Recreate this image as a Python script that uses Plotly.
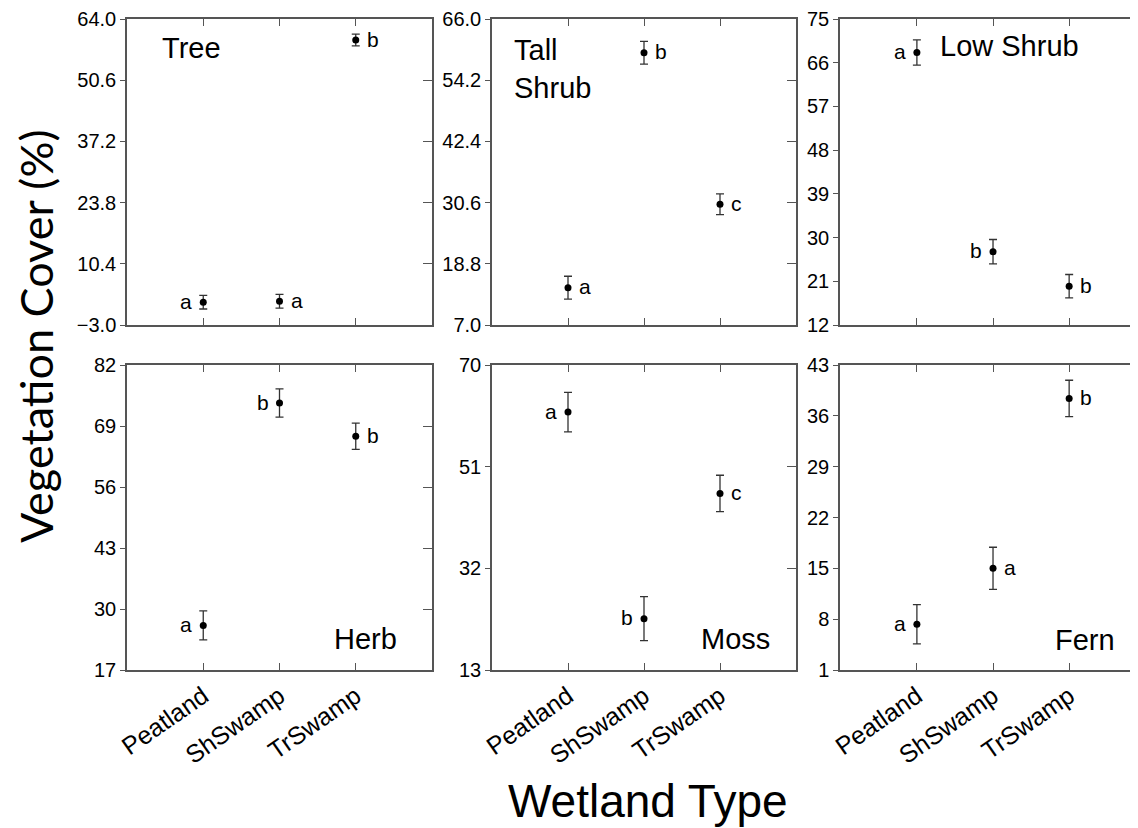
import plotly.graph_objects as go

# ---------------- data ----------------
categories = ["Peatland", "ShSwamp", "TrSwamp"]

panel_names = ["Tree", "Tall<br>Shrub", "Low Shrub", "Herb", "Moss", "Fern"]

tree_mean = [2.0, 2.2, 59.4]
tree_err = [1.5, 1.5, 1.3]
tall_mean = [14.2, 59.5, 30.3]
tall_err = [2.2, 2.2, 2.0]
low_mean = [68.1, 27.1, 20.0]
low_err = [2.6, 2.5, 2.4]
herb_mean = [26.5, 73.9, 66.8]
herb_err = [3.1, 3.0, 2.8]
moss_mean = [61.2, 22.6, 46.0]
moss_err = [3.7, 4.1, 3.4]
fern_mean = [7.3, 15.0, 38.4]
fern_err = [2.7, 2.9, 2.5]

tree_letters = ["a", "a", "b"]
tall_letters = ["a", "b", "c"]
low_letters = ["a", "b", "b"]
herb_letters = ["a", "b", "b"]
moss_letters = ["a", "b", "c"]
fern_letters = ["a", "a", "b"]

# side of the letter relative to the point (L = left, R = right)
tree_sides = ["L", "R", "R"]
tall_sides = ["R", "R", "R"]
low_sides = ["L", "L", "R"]
herb_sides = ["L", "L", "R"]
moss_sides = ["L", "L", "R"]
fern_sides = ["L", "R", "R"]

tree_ticks = [-3.0, 10.4, 23.8, 37.2, 50.6, 64.0]
tall_ticks = [7.0, 18.8, 30.6, 42.4, 54.2, 66.0]
low_ticks = [12, 21, 30, 39, 48, 57, 66, 75]
herb_ticks = [17, 30, 43, 56, 69, 82]
moss_ticks = [13, 32, 51, 70]
fern_ticks = [1, 8, 15, 22, 29, 36, 43]

means = [tree_mean, tall_mean, low_mean, herb_mean, moss_mean, fern_mean]
errs = [tree_err, tall_err, low_err, herb_err, moss_err, fern_err]
letters = [tree_letters, tall_letters, low_letters, herb_letters, moss_letters, fern_letters]
sides = [tree_sides, tall_sides, low_sides, herb_sides, moss_sides, fern_sides]
ticks = [tree_ticks, tall_ticks, low_ticks, herb_ticks, moss_ticks, fern_ticks]
tickfmt = [".1f", ".1f", "d", "d", "d", "d"]

# ---------------- layout geometry ----------------
# the html body adds an 8px margin; figure pixel = page pixel - 8
OFF = 8
W, H = 1140, 830


def fx(px):
    return (px - OFF) / W


def fy(py):
    return 1 - (py - OFF) / H


col_px = [(127, 432), (492, 796), (840, 1143)]
row_px = [(19, 325), (365, 670)]
x_ranges = [[-1, 3], [-1, 3], [-1.01, 2.97]]

# panel-label placement (x domain, y domain, anchor)
label_pos = [
    (0.108, 0.905, "left"),
    (0.066, 0.835, "left"),
    (0.323, 0.913, "left"),
    (0.892, 0.101, "right"),
    (0.921, 0.101, "right"),
    (0.914, 0.099, "right"),
]

AX = "#555555"
FONT = "Liberation Sans, Arial, sans-serif"

fig = go.Figure()
layout = dict(
    width=W, height=H,
    margin=dict(l=0, r=0, t=0, b=0, autoexpand=False),
    paper_bgcolor="white", plot_bgcolor="white",
    showlegend=False,
    font=dict(family=FONT, color="black"),
)
annotations = []

for i in range(6):
    r, c = divmod(i, 3)
    n = i + 1
    xs = "" if n == 1 else str(n)
    xa, ya = "x" + xs, "y" + xs
    rn = n + 6
    x0, x1 = col_px[c]
    y0, y1 = row_px[r]
    lo, hi = ticks[i][0], ticks[i][-1]

    fig.add_trace(go.Scatter(
        x=categories, y=means[i], mode="markers",
        marker=dict(color="black", size=7),
        error_y=dict(type="data", array=errs[i], color="#333333", thickness=1.3, width=4),
        xaxis=xa, yaxis=ya, hoverinfo="skip",
    ))
    # empty trace to hold the right-side tick axis
    fig.add_trace(go.Scatter(x=[], y=[], xaxis=xa, yaxis="y" + str(rn), hoverinfo="skip"))

    layout["xaxis" + xs] = dict(
        domain=[fx(x0), min(fx(x1), 1.0)], anchor=ya, type="category",
        categoryorder="array", categoryarray=categories,
        range=x_ranges[c], automargin=False,
        showline=True, linecolor=AX, linewidth=1.5, mirror="ticks",
        ticks="inside", ticklen=7, tickcolor=AX, tickwidth=1.2,
        tickangle=-35, tickfont=dict(size=25, family=FONT, color="black"),
        showticklabels=(r == 1), showgrid=False, zeroline=False,
    )
    layout["yaxis" + xs] = dict(
        domain=[fy(y1), fy(y0)], anchor=xa, automargin=False,
        range=[lo, hi], tickvals=ticks[i], tickformat=tickfmt[i],
        showline=True, linecolor=AX, linewidth=1.5, mirror=True,
        ticks="outside", ticklen=5, tickcolor=AX, tickwidth=1.2,
        tickfont=dict(size=20, family=FONT, color="black"),
        showgrid=False, zeroline=False,
    )
    layout["yaxis" + str(rn)] = dict(
        overlaying=ya, anchor=xa, side="right", automargin=False,
        range=[lo, hi], tickvals=ticks[i],
        showticklabels=False, showline=False,
        ticks="inside", ticklen=9, tickcolor=AX, tickwidth=1.2,
        showgrid=False, zeroline=False,
    )

    # significance letters
    for cat, m, let, sd in zip(categories, means[i], letters[i], sides[i]):
        annotations.append(dict(
            x=cat, y=m, xref=xa, yref=ya, text=let, showarrow=False,
            xanchor="right" if sd == "L" else "left", yanchor="middle",
            xshift=-9 if sd == "L" else 9, yshift=1,
            font=dict(size=21, family=FONT, color="black"),
        ))

    lx, ly, anc = label_pos[i]
    annotations.append(dict(
        x=lx, y=ly, xref=xa + " domain", yref=ya + " domain",
        text=panel_names[i], showarrow=False, align="left",
        xanchor=anc, yanchor="middle",
        font=dict(size=29, family=FONT, color="black"),
    ))

annotations.append(dict(
    x=fx(36), y=fy(337), xref="paper", yref="paper",
    text="Vegetation Cover (%)", textangle=-90, showarrow=False,
    xanchor="center", yanchor="middle",
    font=dict(size=45, family="Lato, Open Sans, sans-serif", color="black"),
))
annotations.append(dict(
    x=fx(648), y=fy(801), xref="paper", yref="paper",
    text="Wetland Type", showarrow=False,
    xanchor="center", yanchor="middle",
    font=dict(size=46, family=FONT, color="black"),
))

layout["annotations"] = annotations
fig.update_layout(**layout)
fig.write_html("out.html")
